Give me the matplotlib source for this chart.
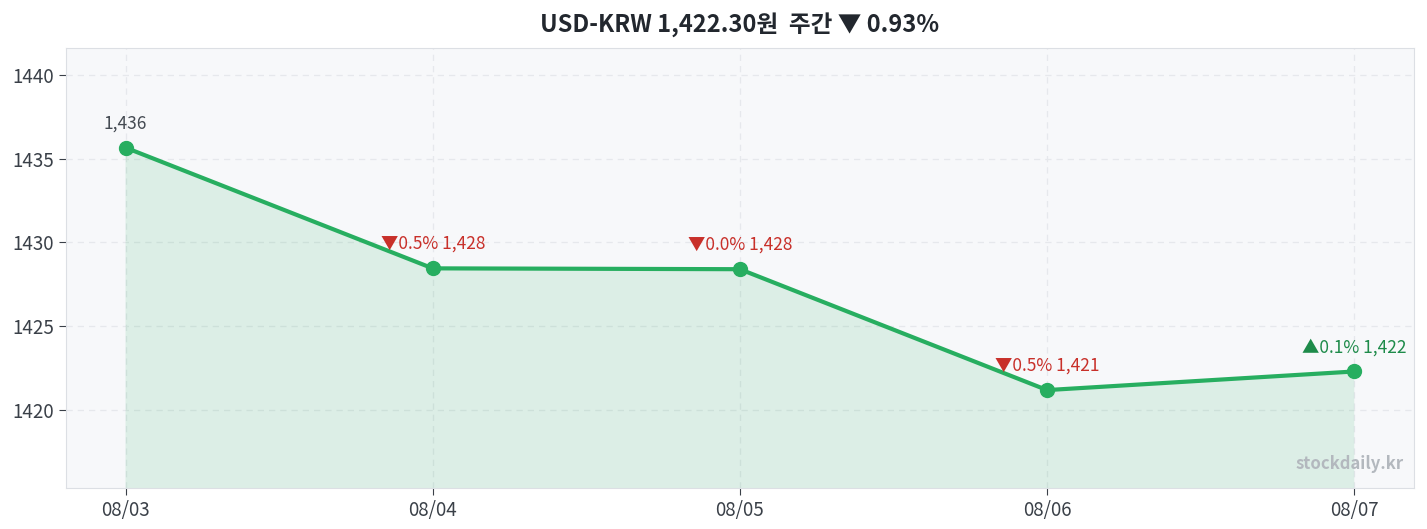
import matplotlib
matplotlib.use("Agg")
import matplotlib.pyplot as plt

plt.rcParams['font.family'] = ['Noto Sans CJK KR', 'DejaVu Sans']

dates = ["08/03", "08/04", "08/05", "08/06", "08/07"]
rates = [1435.65, 1428.45, 1428.40, 1421.19, 1422.30]
yticks = [1420, 1425, 1430, 1435, 1440]

x = list(range(len(dates)))
green = "#27ae60"
red = "#c8302a"
dgreen = "#1e8b4a"

fig = plt.figure(figsize=(14.27, 5.29), dpi=100)
ax = fig.add_axes([0.046, 0.0775, 0.945, 0.832])
ax.set_facecolor("#f7f8fa")

ax.fill_between(x, rates, 1400, color=green, alpha=0.13, linewidth=0)
ax.plot(x, rates, color=green, linewidth=3, marker="o", markersize=10, zorder=3)

for i, v in enumerate(rates):
    if i == 0:
        txt = f"{round(v):,}"
        col = "#444a52"
    else:
        pct = (v - rates[i - 1]) / rates[i - 1] * 100
        arrow = "▲" if pct > 0 else "▼"
        txt = f"{arrow}{abs(pct):.1f}% {round(v):,}"
        col = dgreen if pct > 0 else red
    ax.annotate(txt, (i, v), xytext=(0, 11), textcoords="offset points",
                ha="center", va="bottom", fontsize=12.5, color=col,
                fontweight="medium")

ax.set_xlim(-0.195, 4.195)
ax.set_ylim(1415.35, 1441.6)
ax.set_xticks(x)
ax.set_xticklabels(dates)
ax.set_yticks(yticks)
ax.tick_params(labelsize=13.5, colors="#3a4048", length=5)
ax.grid(True, linestyle=(0, (5, 4)), color="#e6e8ec", linewidth=0.9)
ax.set_axisbelow(True)
for s in ax.spines.values():
    s.set_color("#dcdfe4")

ax.text(0.992, 0.035, "stockdaily.kr", transform=ax.transAxes, ha="right",
        va="bottom", fontsize=12, color="#b3b8be", fontweight="bold")

change = (rates[-1] - rates[0]) / rates[0] * 100
ax.set_title(f"USD-KRW {rates[-1]:,.2f}원  주간 ▼ {abs(change):.2f}%",
             pad=12, fontsize=17, fontweight="semibold", color="#22272e")

fig.savefig("out.png", dpi=100)
